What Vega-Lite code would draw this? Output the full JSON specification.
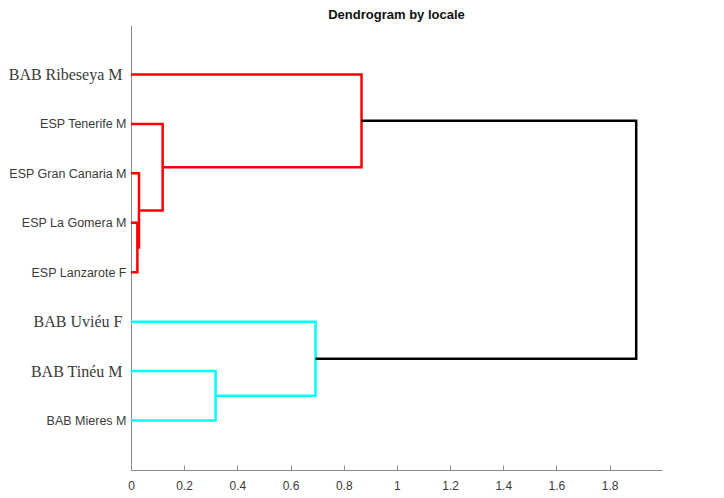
{
  "$schema": "https://vega.github.io/schema/vega-lite/v6.json",
  "width": 531,
  "height": 445,
  "padding": {"left": 8, "top": 9, "right": 5, "bottom": 5},
  "background": "white",
  "title": {
    "text": "Dendrogram by locale",
    "font": "Liberation Sans",
    "fontSize": 13,
    "fontWeight": "bold",
    "color": "#111",
    "anchor": "middle",
    "offset": 3
  },
  "config": {
    "view": {"stroke": null},
    "axis": {"grid": false, "domainColor": "#8a8a8a", "tickColor": "#8a8a8a", "labelColor": "#3a3a3a"}
  },
  "data": {
    "values": [
      {"link": 1, "seq": 1, "x": 0, "y": 5, "branch": "red"},
      {"link": 1, "seq": 2, "x": 0.024, "y": 5, "branch": "red"},
      {"link": 1, "seq": 3, "x": 0.024, "y": 4, "branch": "red"},
      {"link": 1, "seq": 4, "x": 0, "y": 4, "branch": "red"},

      {"link": 2, "seq": 1, "x": 0, "y": 6, "branch": "red"},
      {"link": 2, "seq": 2, "x": 0.030, "y": 6, "branch": "red"},
      {"link": 2, "seq": 3, "x": 0.030, "y": 4.5, "branch": "red"},
      {"link": 2, "seq": 4, "x": 0.024, "y": 4.5, "branch": "red"},

      {"link": 3, "seq": 1, "x": 0, "y": 7, "branch": "red"},
      {"link": 3, "seq": 2, "x": 0.119, "y": 7, "branch": "red"},
      {"link": 3, "seq": 3, "x": 0.119, "y": 5.25, "branch": "red"},
      {"link": 3, "seq": 4, "x": 0.030, "y": 5.25, "branch": "red"},

      {"link": 4, "seq": 1, "x": 0, "y": 8, "branch": "red"},
      {"link": 4, "seq": 2, "x": 0.867, "y": 8, "branch": "red"},
      {"link": 4, "seq": 3, "x": 0.867, "y": 6.125, "branch": "red"},
      {"link": 4, "seq": 4, "x": 0.119, "y": 6.125, "branch": "red"},

      {"link": 5, "seq": 1, "x": 0, "y": 2, "branch": "cyan"},
      {"link": 5, "seq": 2, "x": 0.318, "y": 2, "branch": "cyan"},
      {"link": 5, "seq": 3, "x": 0.318, "y": 1, "branch": "cyan"},
      {"link": 5, "seq": 4, "x": 0, "y": 1, "branch": "cyan"},

      {"link": 6, "seq": 1, "x": 0, "y": 3, "branch": "cyan"},
      {"link": 6, "seq": 2, "x": 0.694, "y": 3, "branch": "cyan"},
      {"link": 6, "seq": 3, "x": 0.694, "y": 1.5, "branch": "cyan"},
      {"link": 6, "seq": 4, "x": 0.318, "y": 1.5, "branch": "cyan"},

      {"link": 7, "seq": 1, "x": 0.867, "y": 7.0625, "branch": "root"},
      {"link": 7, "seq": 2, "x": 1.90, "y": 7.0625, "branch": "root"},
      {"link": 7, "seq": 3, "x": 1.90, "y": 2.25, "branch": "root"},
      {"link": 7, "seq": 4, "x": 0.694, "y": 2.25, "branch": "root"}
    ]
  },
  "mark": {"type": "line", "strokeWidth": 2.5, "strokeJoin": "miter", "strokeCap": "butt", "clip": false},
  "encoding": {
    "x": {
      "field": "x",
      "type": "quantitative",
      "scale": {"domain": [0, 1.997], "nice": false, "zero": true},
      "axis": {
        "title": null,
        "values": [0, 0.2, 0.4, 0.6, 0.8, 1, 1.2, 1.4, 1.6, 1.8],
        "labelExpr": "format(datum.value, '~g')",
        "labelFont": "Liberation Sans",
        "labelFontSize": 12,
        "labelPadding": 15,
        "tickSize": -5,
        "labelFlush": false
      }
    },
    "y": {
      "field": "y",
      "type": "quantitative",
      "scale": {"domain": [0, 9], "nice": false, "zero": false},
      "axis": {
        "title": null,
        "values": [1, 2, 3, 4, 5, 6, 7, 8],
        "ticks": false,
        "labelPadding": {"condition": {"test": "datum.value == 2 || datum.value == 3 || datum.value == 8", "value": 9}, "value": 5},
        "labelExpr": "['', 'BAB Mieres M', 'BAB Tinéu M', 'BAB Uviéu F', 'ESP Lanzarote F', 'ESP La Gomera M', 'ESP Gran Canaria M', 'ESP Tenerife M', 'BAB Ribeseya M'][datum.value]",
        "labelFont": {"condition": {"test": "datum.value == 2 || datum.value == 3 || datum.value == 8", "value": "Liberation Serif"}, "value": "Liberation Sans"},
        "labelFontSize": {"condition": {"test": "datum.value == 2 || datum.value == 3 || datum.value == 8", "value": 16}, "value": 12.5}
      }
    },
    "detail": {"field": "link"},
    "order": {"field": "seq"},
    "color": {
      "field": "branch",
      "type": "nominal",
      "scale": {"domain": ["red", "cyan", "root"], "range": ["#ff0000", "#00ffff", "#000000"]},
      "legend": null
    }
  }
}
